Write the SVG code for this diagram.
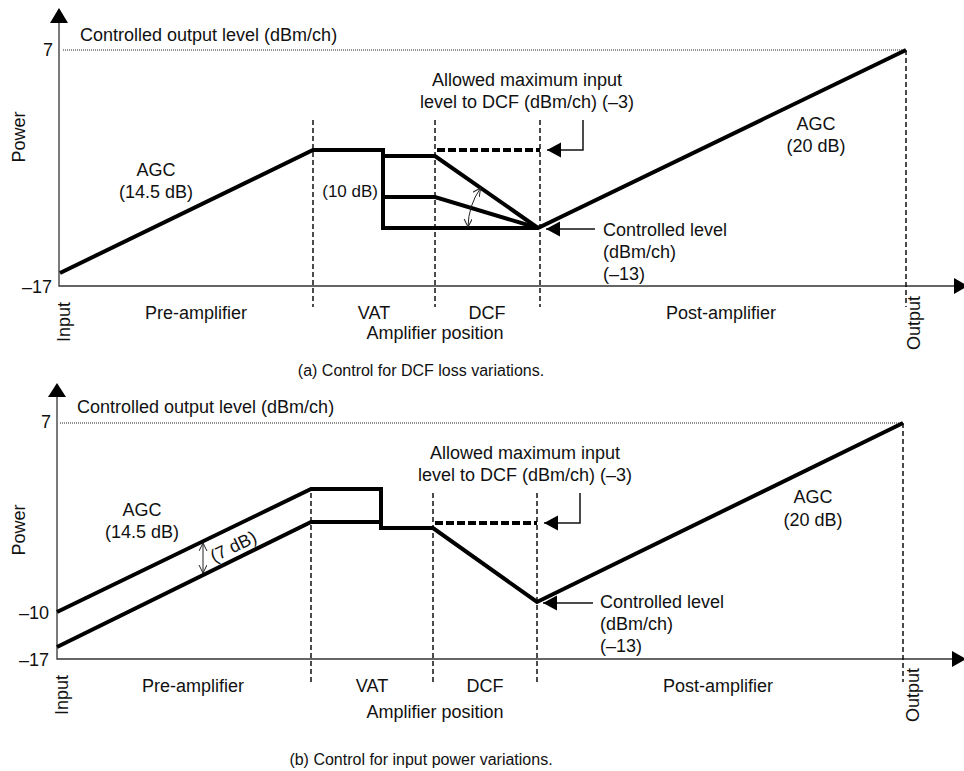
<svg xmlns="http://www.w3.org/2000/svg" width="964" height="771" viewBox="0 0 964 771">
<style>
text{font-family:"Liberation Sans",Arial,Helvetica,sans-serif;font-size:18px;fill:#111}
.cap{font-size:16px}
.mid{text-anchor:middle}
.end{text-anchor:end}
.axis{stroke:#333;stroke-width:1.3;fill:none}
.dot{stroke:#222;stroke-width:1.2;stroke-dasharray:1,1;fill:none}
.vd{stroke:#111;stroke-width:1.5;stroke-dasharray:5,3;fill:none}
.thick{stroke:#000;stroke-width:4;fill:none;stroke-linejoin:miter}
.tdash{stroke:#000;stroke-width:4;stroke-dasharray:8,3;fill:none}
.ptr{stroke:#111;stroke-width:1.5;fill:none}
.thin{stroke:#222;stroke-width:1;fill:none}
</style>
<defs>
<marker id="tri" markerUnits="userSpaceOnUse" markerWidth="15" markerHeight="16" refX="14" refY="7.5" orient="auto"><path d="M0,0 L14,7.5 L0,15 Z" fill="#000"/></marker>
<marker id="open" markerUnits="userSpaceOnUse" markerWidth="10" markerHeight="10" refX="8" refY="4" orient="auto-start-reverse"><path d="M0,0 L8,4 L0,8" fill="none" stroke="#222" stroke-width="1"/></marker>
</defs>

<!-- ================= Chart (a) ================= -->
<g id="chartA-axes">
<path class="axis" d="M59,22 V286 H956"/>
<polygon points="59,8 50,23 68,23" fill="#000"/>
<polygon points="954,278 954,294 968,286" fill="#000"/>
<path class="dot" d="M63,50 H906"/>
<path class="vd" d="M313,120 V307 M435,120 V307 M540,120 V307 M906,50 V307"/>
</g>
<g id="chartA-connectors">
<path class="thick" d="M60,273 L313,150 L383,150 L383,228 L538,228 L906,50"/>
<path class="thick" d="M383,156 L435,156 L538,228"/>
<path class="thick" d="M383,197 L435,197 L538,228"/>
<path class="tdash" d="M437,150 H540"/>
<path class="ptr" d="M583,120 V150 H547" marker-end="url(#tri)"/>
<path class="ptr" d="M595,229 H546" marker-end="url(#tri)"/>
<path class="thin" d="M468,227 A70,70 0 0 1 480.6,188" marker-start="url(#open)" marker-end="url(#open)"/>
</g>
<g id="chartA-labels">
<text id="a-power" transform="translate(25,137) rotate(-90)" class="mid">Power</text>
<text id="a-7" x="53" y="56" class="end">7</text>
<text id="a-m17" x="52" y="293" class="end">–17</text>
<text id="a-ctrlout" x="80" y="41">Controlled output level (dBm/ch)</text>
<text id="a-agc1" x="156" y="176" class="mid">AGC</text>
<text id="a-agc1b" x="156" y="198" class="mid">(14.5 dB)</text>
<text id="a-agc2" x="816" y="130" class="mid">AGC</text>
<text id="a-agc2b" x="816" y="152" class="mid">(20 dB)</text>
<text id="a-10db" x="378" y="197" class="end" style="font-size:17px">(10 dB)</text>
<text id="a-allowed1" x="527" y="86" class="mid">Allowed maximum input</text>
<text id="a-allowed2" x="527" y="108" class="mid">level to DCF (dBm/ch) (–3)</text>
<text id="a-ctrl1" x="603" y="236">Controlled level</text>
<text id="a-ctrl2" x="603" y="258">(dBm/ch)</text>
<text id="a-ctrl3" x="603" y="280">(–13)</text>
<text id="a-input" transform="translate(70,302) rotate(-90)" class="end">Input</text>
<text id="a-output" transform="translate(920,296) rotate(-90)" class="end">Output</text>
<text id="a-pre" x="196" y="319" class="mid">Pre-amplifier</text>
<text id="a-vat" x="374" y="319" class="mid">VAT</text>
<text id="a-dcf" x="487" y="319" class="mid">DCF</text>
<text id="a-post" x="721" y="319" class="mid">Post-amplifier</text>
<text id="a-pos" x="435" y="339" class="mid">Amplifier position</text>
<text id="a-caption" x="421" y="376" class="mid cap">(a) Control for DCF loss variations.</text>
</g>

<!-- ================= Chart (b) ================= -->
<g id="chartB-axes">
<path class="axis" d="M57,395 V659 H954"/>
<polygon points="57,383 48,397 66,397" fill="#000"/>
<polygon points="952,651 952,667 966,659" fill="#000"/>
<path class="dot" d="M60,423 H903"/>
<path class="vd" d="M311,493 V682 M433,493 V682 M537,493 V682 M903,423 V682"/>
</g>
<g id="chartB-connectors">
<path class="thick" d="M57,612 L311,489 L381,489 L381,528 L433,528 L537,602 L903,423"/>
<path class="thick" d="M57,647 L311,522 L381,522"/>
<path class="tdash" d="M435,523 H537"/>
<path class="ptr" d="M580,493 V523 H544" marker-end="url(#tri)"/>
<path class="ptr" d="M593,603 H543" marker-end="url(#tri)"/>
<path class="thin" d="M203,543 V573" marker-start="url(#open)" marker-end="url(#open)"/>
</g>
<g id="chartB-labels">
<text id="b-power" transform="translate(25,530) rotate(-90)" class="mid">Power</text>
<text id="b-7" x="51" y="428" class="end">7</text>
<text id="b-m10" x="49" y="619" class="end">–10</text>
<text id="b-m17" x="49" y="666" class="end">–17</text>
<text id="b-ctrlout" x="77" y="413">Controlled output level (dBm/ch)</text>
<text id="b-agc1" x="142" y="516" class="mid">AGC</text>
<text id="b-agc1b" x="142" y="538" class="mid">(14.5 dB)</text>
<text id="b-7db" transform="translate(236,552) rotate(-26)" class="mid">(7 dB)</text>
<text id="b-agc2" x="813" y="503" class="mid">AGC</text>
<text id="b-agc2b" x="813" y="526" class="mid">(20 dB)</text>
<text id="b-allowed1" x="525" y="459" class="mid">Allowed maximum input</text>
<text id="b-allowed2" x="525" y="481" class="mid">level to DCF (dBm/ch) (–3)</text>
<text id="b-ctrl1" x="600" y="608">Controlled level</text>
<text id="b-ctrl2" x="600" y="630">(dBm/ch)</text>
<text id="b-ctrl3" x="600" y="652">(–13)</text>
<text id="b-input" transform="translate(68,675) rotate(-90)" class="end">Input</text>
<text id="b-output" transform="translate(919,668) rotate(-90)" class="end">Output</text>
<text id="b-pre" x="193" y="692" class="mid">Pre-amplifier</text>
<text id="b-vat" x="372" y="692" class="mid">VAT</text>
<text id="b-dcf" x="485" y="692" class="mid">DCF</text>
<text id="b-post" x="718" y="692" class="mid">Post-amplifier</text>
<text id="b-pos" x="435" y="718" class="mid">Amplifier position</text>
<text id="b-caption" x="421" y="765" class="mid cap">(b) Control for input power variations.</text>
</g>
</svg>
